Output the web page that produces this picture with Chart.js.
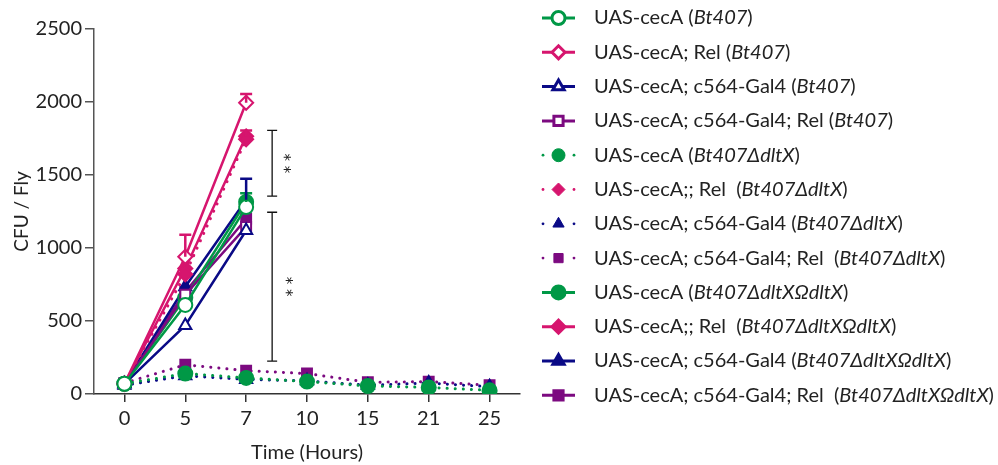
<!DOCTYPE html>
<html>
<head>
<meta charset="utf-8">
<script src="https://cdn.jsdelivr.net/npm/chart.js@4/dist/chart.umd.min.js"></script>
<style>
  html, body { margin: 0; padding: 0; background: #fff; }
  #wrap { width: 998px; height: 465px; position: relative; }
</style>
</head>
<body>
<div id="wrap"><canvas id="cfu"></canvas></div>
<script>
// time points (hours)
const hours = ['0', '5', '7', '10', '15', '21', '25'];
const yTicks = [0, 500, 1000, 1500, 2000, 2500];

// Bt407 infections (open symbols, solid lines)
const cecA_Bt407 = [70, 610, 1280];
const rel_Bt407 = [70, 940, 1995];
const gal4_Bt407 = [70, 470, 1120];
const gal4Rel_Bt407 = [70, 680, 1145];

// Bt407 dltX mutant (filled symbols, dotted lines)
const cecA_dlt = [70, 140, 110, 85, 55, 45, 25];
const rel_dlt = [70, 820, 1745];
const gal4_dlt = [60, 125, 100, 90, 60, 75, 50];
const gal4Rel_dlt = [75, 200, 160, 140, 80, 85, 60];

// complemented strain (filled symbols, solid lines)
const cecA_comp = [70, 660, 1315];
const rel_comp = [70, 860, 1765];
const gal4_comp = [70, 735, 1330];
const gal4Rel_comp = [70, 700, 1200];

// upper error bars (SEM)
const rel_Bt407_err = [0, 150, 60];
const rel_comp_err = [0, 0, 40];
const gal4_comp_err = [0, 0, 145];
const cecA_comp_err = [0, 0, 60];

// significance brackets (y range) between 7 h and 10 h
const sigBrackets = [[1805, 1355], [1245, 225]];
const sigLabels = ['* *', '* *'];

// legend text: host genotype, infecting strain
const hostLabels = [
  'UAS-cecA (', 'UAS-cecA; Rel (', 'UAS-cecA; c564-Gal4 (', 'UAS-cecA; c564-Gal4; Rel (',
  'UAS-cecA (', 'UAS-cecA;; Rel  (', 'UAS-cecA; c564-Gal4 (', 'UAS-cecA; c564-Gal4; Rel  (',
  'UAS-cecA (', 'UAS-cecA;; Rel  (', 'UAS-cecA; c564-Gal4 (', 'UAS-cecA; c564-Gal4; Rel  ('
];
const strainLabels = [
  'Bt407', 'Bt407', 'Bt407', 'Bt407',
  'Bt407\u0394dltX', 'Bt407\u0394dltX', 'Bt407\u0394dltX', 'Bt407\u0394dltX',
  'Bt407\u0394dltX\u03A9dltX', 'Bt407\u0394dltX\u03A9dltX', 'Bt407\u0394dltX\u03A9dltX', 'Bt407\u0394dltX\u03A9dltX'
];

const GREEN = '#009846', PINK = '#d6156e', NAVY = '#0a0a86', PURPLE = '#7c0a80';
const FONT = 'Lato, "Open Sans", sans-serif';

function series(data, color, shape, kind, err) {
  const hollow = kind === 'open';
  const dotted = kind === 'dot';
  return {
    data: data,
    borderColor: color,
    backgroundColor: color,
    borderWidth: dotted ? 3 : 2.5,
    borderDash: dotted ? [0.1, 8] : [],
    borderCapStyle: dotted ? 'round' : 'butt',
    pointStyle: shape,
    pointRadius: 7,
    pointBorderWidth: 2,
    pointBackgroundColor: hollow ? '#fff' : color,
    pointBorderColor: color,
    tension: 0,
    dotted: dotted,
    errorBars: err || null
  };
}

const datasets = [
  series(cecA_Bt407, GREEN, 'circle', 'open'),
  series(rel_Bt407, PINK, 'rectRot', 'open', rel_Bt407_err),
  series(gal4_Bt407, NAVY, 'triangle', 'open'),
  series(gal4Rel_Bt407, PURPLE, 'rect', 'open'),
  series(cecA_dlt, GREEN, 'circle', 'dot'),
  series(rel_dlt, PINK, 'rectRot', 'dot'),
  series(gal4_dlt, NAVY, 'triangle', 'dot'),
  series(gal4Rel_dlt, PURPLE, 'rect', 'dot'),
  series(cecA_comp, GREEN, 'circle', 'fill', cecA_comp_err),
  series(rel_comp, PINK, 'rectRot', 'fill', rel_comp_err),
  series(gal4_comp, NAVY, 'triangle', 'fill', gal4_comp_err),
  series(gal4Rel_comp, PURPLE, 'rect', 'fill')
];

// error bars above the means
const errorBarPlugin = {
  id: 'errorBars',
  afterDatasetsDraw(chart) {
    const ctx = chart.ctx;
    const y = chart.scales.y;
    chart.data.datasets.forEach((ds, i) => {
      if (!ds.errorBars) return;
      const meta = chart.getDatasetMeta(i);
      ds.errorBars.forEach((e, j) => {
        if (!e) return;
        const pt = meta.data[j];
        const top = y.getPixelForValue(ds.data[j] + e);
        ctx.save();
        ctx.strokeStyle = ds.borderColor;
        ctx.lineWidth = 2.5;
        ctx.beginPath();
        ctx.moveTo(pt.x, pt.y);
        ctx.lineTo(pt.x, top);
        ctx.moveTo(pt.x - 6, top);
        ctx.lineTo(pt.x + 6, top);
        ctx.stroke();
        ctx.restore();
      });
    });
  }
};

// significance brackets with stacked asterisks
const bracketPlugin = {
  id: 'brackets',
  afterDraw(chart) {
    const ctx = chart.ctx;
    const x = chart.scales.x.getPixelForValue(2) + 26;
    const y = chart.scales.y;
    ctx.save();
    ctx.strokeStyle = '#111';
    ctx.lineWidth = 1.3;
    sigBrackets.forEach((b, k) => {
      const y1 = y.getPixelForValue(b[0]);
      const y2 = y.getPixelForValue(b[1]);
      ctx.beginPath();
      ctx.moveTo(x - 5, y1); ctx.lineTo(x + 5, y1);
      ctx.moveTo(x, y1); ctx.lineTo(x, y2);
      ctx.moveTo(x - 5, y2); ctx.lineTo(x + 5, y2);
      ctx.stroke();
      ctx.save();
      ctx.translate(x + 11 + k * 2, (y1 + y2) / 2);
      ctx.rotate(Math.PI / 2);
      ctx.fillStyle = '#222';
      ctx.font = '15px "DejaVu Sans", sans-serif';
      ctx.textAlign = 'center';
      ctx.textBaseline = 'middle';
      ctx.fillText(sigLabels[k], 0, 0);
      ctx.restore();
    });
    ctx.restore();
  }
};

// legend on the right with italic strain names
const sideLegendPlugin = {
  id: 'sideLegend',
  afterDraw(chart) {
    const ctx = chart.ctx;
    const x0 = 542, x1 = 575, xm = 558.5, tx = 594;
    chart.data.datasets.forEach((ds, i) => {
      const yy = 18 + i * 34.3;
      ctx.save();
      ctx.strokeStyle = ds.borderColor;
      ctx.fillStyle = ds.borderColor;
      if (ds.dotted) {
        [x0 + 1, x1 - 1].forEach(px => {
          ctx.beginPath();
          ctx.arc(px, yy, 1.4, 0, Math.PI * 2);
          ctx.fill();
        });
      } else {
        ctx.lineWidth = 3;
        ctx.beginPath();
        ctx.moveTo(x0, yy);
        ctx.lineTo(x1, yy);
        ctx.stroke();
      }
      ctx.fillStyle = ds.pointBackgroundColor;
      Chart.helpers.drawPoint(ctx, {
        pointStyle: ds.pointStyle,
        radius: 6.5,
        borderWidth: 2,
        rotation: 0
      }, xm, yy);
      ctx.restore();

      ctx.save();
      ctx.fillStyle = '#222';
      ctx.textBaseline = 'middle';
      let px = tx;
      const parts = [[hostLabels[i], false], [strainLabels[i], true], [')', false]];
      parts.forEach(p => {
        ctx.font = (p[1] ? 'italic ' : '') + '20px ' + FONT;
        ctx.fillText(p[0], px, yy);
        px += ctx.measureText(p[0]).width;
      });
      ctx.restore();
    });
  }
};

new Chart(document.getElementById('cfu'), {
  type: 'line',
  data: { labels: hours, datasets: datasets },
  options: {
    responsive: true,
    maintainAspectRatio: false,
    animation: false,
    layout: { padding: { top: 29, right: 478, left: 0, bottom: 0 } },
    plugins: { legend: { display: false }, tooltip: { enabled: false } },
    scales: {
      x: {
        type: 'category',
        offset: true,
        afterFit(s) { s.height = 71; },
        border: { color: '#333', width: 1.5 },
        grid: { drawOnChartArea: false, drawTicks: true, tickLength: 8, color: '#333', lineWidth: 1.5 },
        ticks: { color: '#222', font: { family: FONT, size: 20 }, padding: 5, maxRotation: 0 },
        title: { display: true, text: 'Time (Hours)', color: '#222', font: { family: FONT, size: 20 }, padding: { top: 0, bottom: 0 } }
      },
      y: {
        min: 0,
        max: 2500,
        afterFit(s) { s.width = 94; },
        afterBuildTicks(s) { s.ticks = yTicks.map(v => ({ value: v })); },
        border: { color: '#555', width: 1.5 },
        grid: { drawOnChartArea: false, drawTicks: true, tickLength: 9, color: '#555', lineWidth: 1.5 },
        ticks: { color: '#222', font: { family: FONT, size: 20 }, padding: 3, callback: v => String(v) },
        title: { display: true, text: 'CFU / Fly', color: '#222', font: { family: FONT, size: 19 }, padding: { top: 10, bottom: 0 } }
      }
    }
  },
  plugins: [errorBarPlugin, bracketPlugin, sideLegendPlugin]
});
</script>
</body>
</html>
